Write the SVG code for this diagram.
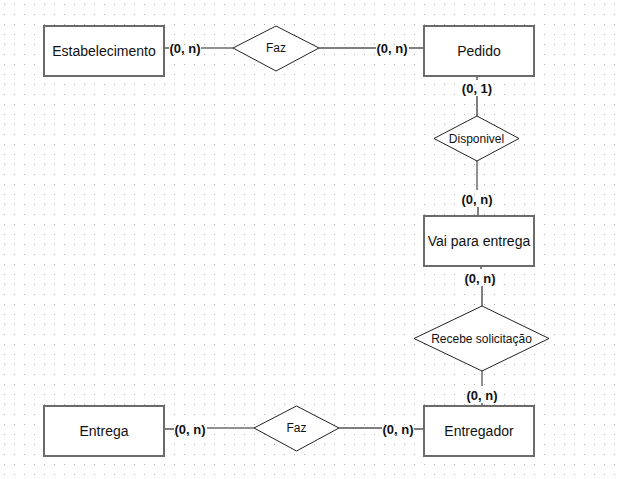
<svg xmlns="http://www.w3.org/2000/svg" width="621" height="479" viewBox="0 0 621 479">
<defs>
<pattern id="grid" x="0" y="0" width="10" height="10" patternUnits="userSpaceOnUse">
<rect x="4" y="4" width="1" height="1" fill="#b0b0b0"/>
</pattern>
<style>
.ent{fill:#fff;stroke:#6b6b6b;stroke-width:2}
.rel{fill:#fff;stroke:#222;stroke-width:1}
.t{font-family:"Liberation Sans",Arial,sans-serif;fill:#111;text-anchor:middle;dominant-baseline:central}
.et{font-size:14px}
.rt{font-size:12px}
.card{font-family:"Liberation Sans",Arial,sans-serif;font-size:13px;font-weight:bold;fill:#111;text-anchor:middle;dominant-baseline:central}
.ln{stroke:#555;stroke-width:1.5;fill:none}
.ln2{stroke:#222;stroke-width:1;fill:none}
</style>
</defs>
<rect width="621" height="479" fill="#fff"/>
<rect width="621" height="479" fill="url(#grid)"/>
<g id="connectors">
<line class="ln" x1="164" y1="48" x2="169" y2="48"/>
<line class="ln2" x1="201" y1="48" x2="233" y2="48"/>
<line class="ln" x1="319" y1="48" x2="376" y2="48"/>
<line class="ln" x1="409" y1="48" x2="424" y2="48"/>
<line class="ln" x1="477" y1="76" x2="477" y2="80"/>
<line class="ln" x1="477" y1="96" x2="477" y2="116"/>
<line class="ln2" x1="477" y1="161" x2="477" y2="190"/>
<line class="ln" x1="478" y1="207" x2="478" y2="216"/>
<line class="ln" x1="481" y1="266" x2="481" y2="269"/>
<line class="ln" x1="482" y1="286" x2="482" y2="306"/>
<line class="ln2" x1="482" y1="371" x2="482" y2="386"/>
<line class="ln" x1="482" y1="403" x2="482" y2="406"/>
<line class="ln" x1="164" y1="429" x2="174" y2="429"/>
<line class="ln2" x1="207" y1="428" x2="254" y2="428"/>
<line class="ln" x1="339" y1="428" x2="382" y2="428"/>
<line class="ln" x1="414" y1="429" x2="424" y2="429"/>
</g>
<g id="estabelecimento">
<rect class="ent" x="44" y="26" width="120" height="50"/>
<text class="t et" x="104" y="51">Estabelecimento</text>
</g>
<g id="faz1">
<polygon class="rel" points="233,48 276,26 319,48 276,71"/>
<text class="t rt" x="276" y="48">Faz</text>
</g>
<g id="pedido">
<rect class="ent" x="424" y="26" width="110" height="50"/>
<text class="t et" x="479" y="51">Pedido</text>
</g>
<g id="disponivel">
<polygon class="rel" points="434,138.5 477,116 519,138.5 477,161"/>
<text class="t rt" x="476.5" y="139">Disponivel</text>
</g>
<g id="vai-para-entrega">
<rect class="ent" x="424" y="216" width="110" height="50"/>
<text class="t et" x="479" y="241">Vai para entrega</text>
</g>
<g id="recebe-solicitacao">
<polygon class="rel" points="414,338.5 482,306 549,338.5 482,371"/>
<text class="t rt" x="481.5" y="339">Recebe solicitação</text>
</g>
<g id="entregador">
<rect class="ent" x="424" y="406" width="110" height="50"/>
<text class="t et" x="479" y="431">Entregador</text>
</g>
<g id="entrega">
<rect class="ent" x="44" y="406" width="120" height="50"/>
<text class="t et" x="104" y="431">Entrega</text>
</g>
<g id="faz2">
<polygon class="rel" points="254,428 296.5,406 339,428 296.5,451"/>
<text class="t rt" x="296.5" y="428">Faz</text>
</g>
<g id="labels">
<text class="card" x="185" y="48">(0, n)</text>
<text class="card" x="392" y="48">(0, n)</text>
<text class="card" x="477" y="88">(0, 1)</text>
<text class="card" x="477" y="199">(0, n)</text>
<text class="card" x="480" y="278">(0, n)</text>
<text class="card" x="482" y="395">(0, n)</text>
<text class="card" x="190" y="429">(0, n)</text>
<text class="card" x="398" y="429">(0, n)</text>
</g>
</svg>
